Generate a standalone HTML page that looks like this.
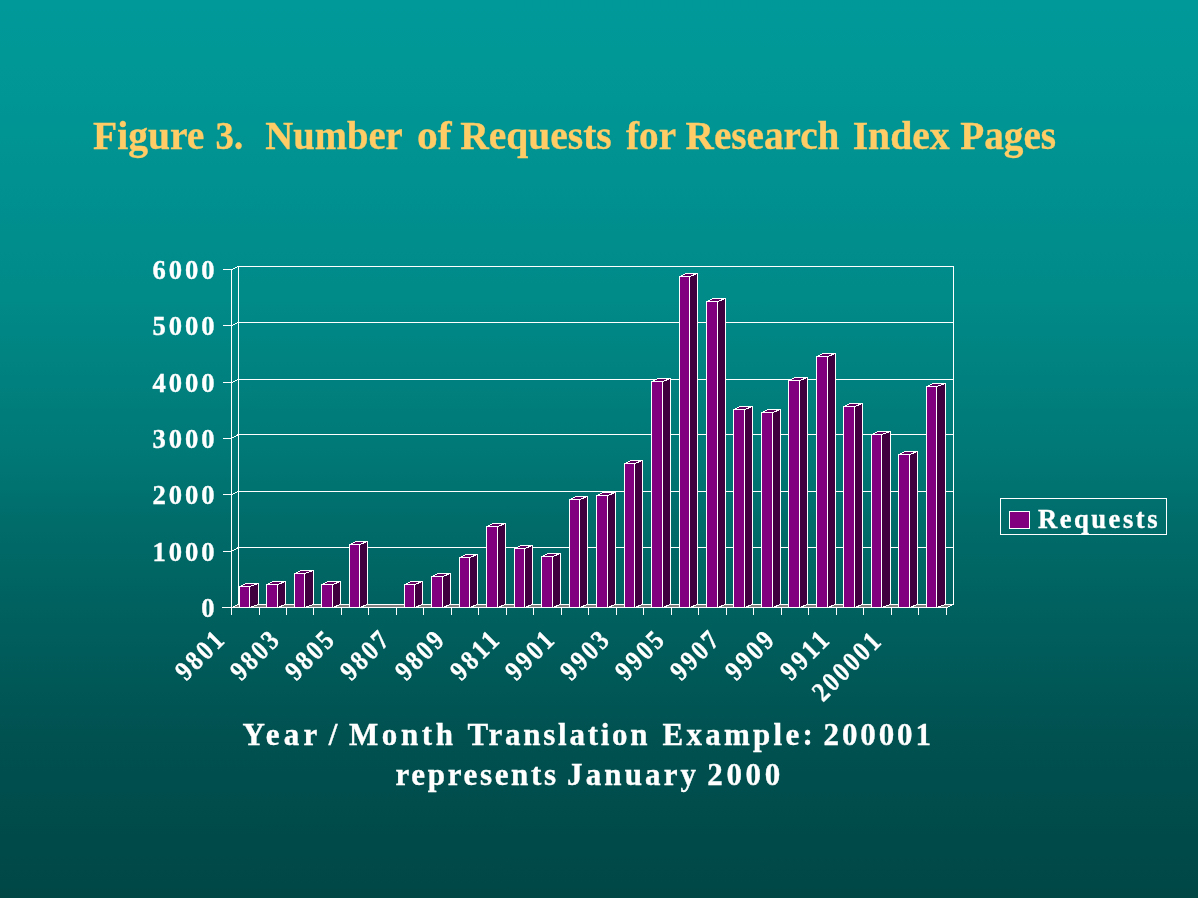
<!DOCTYPE html>
<html><head><meta charset="utf-8"><title>Figure 3</title>
<style>
html,body{margin:0;padding:0;}
body{width:1198px;height:898px;overflow:hidden;position:relative;font-family:"Liberation Serif",serif;
background:linear-gradient(to bottom,rgb(0,153,153) 0px,rgb(0,150,149) 100px,rgb(0,144,143) 200px,rgb(0,138,136) 300px,rgb(0,120,118) 455px,rgb(0,108,106) 522px,rgb(0,98,96) 600px,rgb(0,81,80) 740px,rgb(0,72,71) 883px,rgb(0,71,70) 898px);}
</style></head><body>
<svg width="1198" height="898" viewBox="0 0 1198 898" style="position:absolute;left:0;top:0;will-change:transform">
<g shape-rendering="crispEdges" stroke="#fff" stroke-width="1" fill="none">
<rect x="238.5" y="266.5" width="715.0" height="338.0"/>
<line x1="238.5" y1="322.5" x2="953.5" y2="322.5"/>
<line x1="238.5" y1="379.5" x2="953.5" y2="379.5"/>
<line x1="238.5" y1="434.5" x2="953.5" y2="434.5"/>
<line x1="238.5" y1="491.5" x2="953.5" y2="491.5"/>
<line x1="238.5" y1="547.5" x2="953.5" y2="547.5"/>
<line x1="231.5" y1="269.5" x2="231.5" y2="607.5"/>
<line x1="231.5" y1="269.5" x2="238.5" y2="266.5"/>
<line x1="223.0" y1="269.5" x2="231.5" y2="269.5"/>
<line x1="231.5" y1="325.5" x2="238.5" y2="322.5"/>
<line x1="223.0" y1="325.5" x2="231.5" y2="325.5"/>
<line x1="231.5" y1="382.5" x2="238.5" y2="379.5"/>
<line x1="223.0" y1="382.5" x2="231.5" y2="382.5"/>
<line x1="231.5" y1="438.5" x2="238.5" y2="434.5"/>
<line x1="223.0" y1="438.5" x2="231.5" y2="438.5"/>
<line x1="231.5" y1="494.5" x2="238.5" y2="491.5"/>
<line x1="223.0" y1="494.5" x2="231.5" y2="494.5"/>
<line x1="231.5" y1="551.5" x2="238.5" y2="547.5"/>
<line x1="223.0" y1="551.5" x2="231.5" y2="551.5"/>
<polygon points="231.5,607.5 946.5,607.5 953.5,604.5 238.5,604.5" fill="#808080"/>
<line x1="222.0" y1="607.5" x2="946.5" y2="607.5"/>
<line x1="231.5" y1="607.5" x2="231.5" y2="615.0"/>
<line x1="259.5" y1="607.5" x2="259.5" y2="615.0"/>
<line x1="286.5" y1="607.5" x2="286.5" y2="615.0"/>
<line x1="313.5" y1="607.5" x2="313.5" y2="615.0"/>
<line x1="341.5" y1="607.5" x2="341.5" y2="615.0"/>
<line x1="368.5" y1="607.5" x2="368.5" y2="615.0"/>
<line x1="396.5" y1="607.5" x2="396.5" y2="615.0"/>
<line x1="423.5" y1="607.5" x2="423.5" y2="615.0"/>
<line x1="451.5" y1="607.5" x2="451.5" y2="615.0"/>
<line x1="478.5" y1="607.5" x2="478.5" y2="615.0"/>
<line x1="506.5" y1="607.5" x2="506.5" y2="615.0"/>
<line x1="533.5" y1="607.5" x2="533.5" y2="615.0"/>
<line x1="561.5" y1="607.5" x2="561.5" y2="615.0"/>
<line x1="588.5" y1="607.5" x2="588.5" y2="615.0"/>
<line x1="616.5" y1="607.5" x2="616.5" y2="615.0"/>
<line x1="643.5" y1="607.5" x2="643.5" y2="615.0"/>
<line x1="671.5" y1="607.5" x2="671.5" y2="615.0"/>
<line x1="698.5" y1="607.5" x2="698.5" y2="615.0"/>
<line x1="726.5" y1="607.5" x2="726.5" y2="615.0"/>
<line x1="753.5" y1="607.5" x2="753.5" y2="615.0"/>
<line x1="781.5" y1="607.5" x2="781.5" y2="615.0"/>
<line x1="808.5" y1="607.5" x2="808.5" y2="615.0"/>
<line x1="836.5" y1="607.5" x2="836.5" y2="615.0"/>
<line x1="863.5" y1="607.5" x2="863.5" y2="615.0"/>
<line x1="891.5" y1="607.5" x2="891.5" y2="615.0"/>
<line x1="918.5" y1="607.5" x2="918.5" y2="615.0"/>
<line x1="946.5" y1="607.5" x2="946.5" y2="615.0"/>
<polygon points="239.5,586.5 249.5,586.5 258.5,583.5 246.5,583.5" fill="#600060"/>
<polygon points="249.5,586.5 258.5,583.5 258.5,604.5 249.5,607.5" fill="#400040"/>
<rect x="239.5" y="586.5" width="10.0" height="21.0" fill="#800080"/>
<polygon points="266.5,584.5 277.5,584.5 285.5,581.5 273.5,581.5" fill="#600060"/>
<polygon points="277.5,584.5 285.5,581.5 285.5,604.5 277.5,607.5" fill="#400040"/>
<rect x="266.5" y="584.5" width="11.0" height="23.0" fill="#800080"/>
<polygon points="294.5,573.5 304.5,573.5 313.5,570.5 301.5,570.5" fill="#600060"/>
<polygon points="304.5,573.5 313.5,570.5 313.5,604.5 304.5,607.5" fill="#400040"/>
<rect x="294.5" y="573.5" width="10.0" height="34.0" fill="#800080"/>
<polygon points="321.5,584.5 332.5,584.5 340.5,581.5 328.5,581.5" fill="#600060"/>
<polygon points="332.5,584.5 340.5,581.5 340.5,604.5 332.5,607.5" fill="#400040"/>
<rect x="321.5" y="584.5" width="11.0" height="23.0" fill="#800080"/>
<polygon points="349.5,544.5 359.5,544.5 367.5,541.5 356.5,541.5" fill="#600060"/>
<polygon points="359.5,544.5 367.5,541.5 367.5,604.5 359.5,607.5" fill="#400040"/>
<rect x="349.5" y="544.5" width="10.0" height="63.0" fill="#800080"/>
<polygon points="404.5,584.5 414.5,584.5 422.5,581.5 411.5,581.5" fill="#600060"/>
<polygon points="414.5,584.5 422.5,581.5 422.5,604.5 414.5,607.5" fill="#400040"/>
<rect x="404.5" y="584.5" width="10.0" height="23.0" fill="#800080"/>
<polygon points="431.5,576.5 442.5,576.5 450.5,573.5 438.5,573.5" fill="#600060"/>
<polygon points="442.5,576.5 450.5,573.5 450.5,604.5 442.5,607.5" fill="#400040"/>
<rect x="431.5" y="576.5" width="11.0" height="31.0" fill="#800080"/>
<polygon points="459.5,557.5 469.5,557.5 477.5,554.5 466.5,554.5" fill="#600060"/>
<polygon points="469.5,557.5 477.5,554.5 477.5,604.5 469.5,607.5" fill="#400040"/>
<rect x="459.5" y="557.5" width="10.0" height="50.0" fill="#800080"/>
<polygon points="486.5,526.5 497.5,526.5 505.5,523.5 493.5,523.5" fill="#600060"/>
<polygon points="497.5,526.5 505.5,523.5 505.5,604.5 497.5,607.5" fill="#400040"/>
<rect x="486.5" y="526.5" width="11.0" height="81.0" fill="#800080"/>
<polygon points="514.5,548.5 524.5,548.5 532.5,545.5 521.5,545.5" fill="#600060"/>
<polygon points="524.5,548.5 532.5,545.5 532.5,604.5 524.5,607.5" fill="#400040"/>
<rect x="514.5" y="548.5" width="10.0" height="59.0" fill="#800080"/>
<polygon points="541.5,556.5 552.5,556.5 560.5,553.5 548.5,553.5" fill="#600060"/>
<polygon points="552.5,556.5 560.5,553.5 560.5,604.5 552.5,607.5" fill="#400040"/>
<rect x="541.5" y="556.5" width="11.0" height="51.0" fill="#800080"/>
<polygon points="569.5,499.5 579.5,499.5 587.5,496.5 576.5,496.5" fill="#600060"/>
<polygon points="579.5,499.5 587.5,496.5 587.5,604.5 579.5,607.5" fill="#400040"/>
<rect x="569.5" y="499.5" width="10.0" height="108.0" fill="#800080"/>
<polygon points="596.5,495.5 607.5,495.5 615.5,492.5 603.5,492.5" fill="#600060"/>
<polygon points="607.5,495.5 615.5,492.5 615.5,604.5 607.5,607.5" fill="#400040"/>
<rect x="596.5" y="495.5" width="11.0" height="112.0" fill="#800080"/>
<polygon points="624.5,463.5 634.5,463.5 642.5,460.5 631.5,460.5" fill="#600060"/>
<polygon points="634.5,463.5 642.5,460.5 642.5,604.5 634.5,607.5" fill="#400040"/>
<rect x="624.5" y="463.5" width="10.0" height="144.0" fill="#800080"/>
<polygon points="651.5,381.5 662.5,381.5 670.5,378.5 658.5,378.5" fill="#600060"/>
<polygon points="662.5,381.5 670.5,378.5 670.5,604.5 662.5,607.5" fill="#400040"/>
<rect x="651.5" y="381.5" width="11.0" height="226.0" fill="#800080"/>
<polygon points="679.5,276.5 689.5,276.5 697.5,273.5 686.5,273.5" fill="#600060"/>
<polygon points="689.5,276.5 697.5,273.5 697.5,604.5 689.5,607.5" fill="#400040"/>
<rect x="679.5" y="276.5" width="10.0" height="331.0" fill="#800080"/>
<polygon points="706.5,301.5 717.5,301.5 725.5,298.5 713.5,298.5" fill="#600060"/>
<polygon points="717.5,301.5 725.5,298.5 725.5,604.5 717.5,607.5" fill="#400040"/>
<rect x="706.5" y="301.5" width="11.0" height="306.0" fill="#800080"/>
<polygon points="733.5,409.5 744.5,409.5 752.5,406.5 740.5,406.5" fill="#600060"/>
<polygon points="744.5,409.5 752.5,406.5 752.5,604.5 744.5,607.5" fill="#400040"/>
<rect x="733.5" y="409.5" width="11.0" height="198.0" fill="#800080"/>
<polygon points="761.5,412.5 772.5,412.5 780.5,409.5 768.5,409.5" fill="#600060"/>
<polygon points="772.5,412.5 780.5,409.5 780.5,604.5 772.5,607.5" fill="#400040"/>
<rect x="761.5" y="412.5" width="11.0" height="195.0" fill="#800080"/>
<polygon points="788.5,380.5 799.5,380.5 807.5,377.5 795.5,377.5" fill="#600060"/>
<polygon points="799.5,380.5 807.5,377.5 807.5,604.5 799.5,607.5" fill="#400040"/>
<rect x="788.5" y="380.5" width="11.0" height="227.0" fill="#800080"/>
<polygon points="816.5,356.5 827.5,356.5 835.5,353.5 823.5,353.5" fill="#600060"/>
<polygon points="827.5,356.5 835.5,353.5 835.5,604.5 827.5,607.5" fill="#400040"/>
<rect x="816.5" y="356.5" width="11.0" height="251.0" fill="#800080"/>
<polygon points="843.5,406.5 854.5,406.5 862.5,403.5 850.5,403.5" fill="#600060"/>
<polygon points="854.5,406.5 862.5,403.5 862.5,604.5 854.5,607.5" fill="#400040"/>
<rect x="843.5" y="406.5" width="11.0" height="201.0" fill="#800080"/>
<polygon points="871.5,434.5 881.5,434.5 890.5,431.5 878.5,431.5" fill="#600060"/>
<polygon points="881.5,434.5 890.5,431.5 890.5,604.5 881.5,607.5" fill="#400040"/>
<rect x="871.5" y="434.5" width="10.0" height="173.0" fill="#800080"/>
<polygon points="898.5,454.5 909.5,454.5 917.5,451.5 905.5,451.5" fill="#600060"/>
<polygon points="909.5,454.5 917.5,451.5 917.5,604.5 909.5,607.5" fill="#400040"/>
<rect x="898.5" y="454.5" width="11.0" height="153.0" fill="#800080"/>
<polygon points="926.5,386.5 936.5,386.5 945.5,383.5 933.5,383.5" fill="#600060"/>
<polygon points="936.5,386.5 945.5,383.5 945.5,604.5 936.5,607.5" fill="#400040"/>
<rect x="926.5" y="386.5" width="10.0" height="221.0" fill="#800080"/>
</g>
<g shape-rendering="crispEdges" stroke="#fff" stroke-width="1">
<rect x="1000.5" y="498.5" width="166" height="36" fill="none"/>
<rect x="1009.5" y="511.5" width="20" height="17" fill="#800080"/>
</g>
<g font-family="Liberation Serif, serif" font-weight="bold" fill="#fff" stroke="#fff" stroke-width="0.35">
<text y="149" font-size="41" fill="#ffcc66" stroke="#ffcc66"><tspan x="93.0" textLength="111.4" lengthAdjust="spacingAndGlyphs">Figure</tspan> <tspan x="215.6" textLength="27.5" lengthAdjust="spacingAndGlyphs">3.</tspan> <tspan x="265.3" textLength="136.7" lengthAdjust="spacingAndGlyphs">Number</tspan> <tspan x="417.1" textLength="34.6" lengthAdjust="spacingAndGlyphs">of</tspan> <tspan x="460.2" textLength="151.5" lengthAdjust="spacingAndGlyphs">Requests</tspan> <tspan x="626.0" textLength="49.4" lengthAdjust="spacingAndGlyphs">for</tspan> <tspan x="685.6" textLength="153.8" lengthAdjust="spacingAndGlyphs">Research</tspan> <tspan x="852.7" textLength="97.0" lengthAdjust="spacingAndGlyphs">Index</tspan> <tspan x="960.3" textLength="95.8" lengthAdjust="spacingAndGlyphs">Pages</tspan></text>
<text x="152.5" y="279.0" font-size="26.6" textLength="62" lengthAdjust="spacing">6000</text>
<text x="152.5" y="335.0" font-size="26.6" textLength="62" lengthAdjust="spacing">5000</text>
<text x="152.5" y="392.0" font-size="26.6" textLength="62" lengthAdjust="spacing">4000</text>
<text x="152.5" y="448.0" font-size="26.6" textLength="62" lengthAdjust="spacing">3000</text>
<text x="152.5" y="504.0" font-size="26.6" textLength="62" lengthAdjust="spacing">2000</text>
<text x="152.5" y="561.0" font-size="26.6" textLength="62" lengthAdjust="spacing">1000</text>
<text x="201.3" y="617.0" font-size="26.6">0</text>
<text x="1038" y="527.7" font-size="26.6" textLength="119.5" lengthAdjust="spacing">Requests</text>
<text transform="translate(225.55,642.1) rotate(-45) scale(0.9,1.03)" text-anchor="end" font-size="26.6" textLength="62.2" lengthAdjust="spacing">9801</text>
<text transform="translate(280.55,642.1) rotate(-45) scale(0.9,1.03)" text-anchor="end" font-size="26.6" textLength="62.2" lengthAdjust="spacing">9803</text>
<text transform="translate(335.55,642.1) rotate(-45) scale(0.9,1.03)" text-anchor="end" font-size="26.6" textLength="62.2" lengthAdjust="spacing">9805</text>
<text transform="translate(390.55,642.1) rotate(-45) scale(0.9,1.03)" text-anchor="end" font-size="26.6" textLength="62.2" lengthAdjust="spacing">9807</text>
<text transform="translate(445.55,642.1) rotate(-45) scale(0.9,1.03)" text-anchor="end" font-size="26.6" textLength="62.2" lengthAdjust="spacing">9809</text>
<text transform="translate(500.55,642.1) rotate(-45) scale(0.9,1.03)" text-anchor="end" font-size="26.6" textLength="62.2" lengthAdjust="spacing">9811</text>
<text transform="translate(555.55,642.1) rotate(-45) scale(0.9,1.03)" text-anchor="end" font-size="26.6" textLength="62.2" lengthAdjust="spacing">9901</text>
<text transform="translate(610.55,642.1) rotate(-45) scale(0.9,1.03)" text-anchor="end" font-size="26.6" textLength="62.2" lengthAdjust="spacing">9903</text>
<text transform="translate(665.55,642.1) rotate(-45) scale(0.9,1.03)" text-anchor="end" font-size="26.6" textLength="62.2" lengthAdjust="spacing">9905</text>
<text transform="translate(720.55,642.1) rotate(-45) scale(0.9,1.03)" text-anchor="end" font-size="26.6" textLength="62.2" lengthAdjust="spacing">9907</text>
<text transform="translate(775.55,642.1) rotate(-45) scale(0.9,1.03)" text-anchor="end" font-size="26.6" textLength="62.2" lengthAdjust="spacing">9909</text>
<text transform="translate(830.55,642.1) rotate(-45) scale(0.9,1.03)" text-anchor="end" font-size="26.6" textLength="62.2" lengthAdjust="spacing">9911</text>
<text transform="translate(882.25,643.4) rotate(-45) scale(0.9,1.03)" text-anchor="end" font-size="26.6" textLength="93.3" lengthAdjust="spacing">200001</text>
<text y="745" font-size="31"><tspan x="242.5" letter-spacing="4.23">Year</tspan> <tspan x="328.7" letter-spacing="0.00">/</tspan> <tspan x="349.0" letter-spacing="3.60">Month</tspan> <tspan x="467.5" letter-spacing="2.73">Translation</tspan> <tspan x="662.5" letter-spacing="3.26">Example:</tspan> <tspan x="823.6" letter-spacing="2.88">200001</tspan></text>
<text y="784.7" font-size="31"><tspan x="395.5" letter-spacing="2.66">represents</tspan> <tspan x="567.0" letter-spacing="3.13">January</tspan> <tspan x="707.3" letter-spacing="3.63">2000</tspan></text>
</g>
</svg>
</body></html>
